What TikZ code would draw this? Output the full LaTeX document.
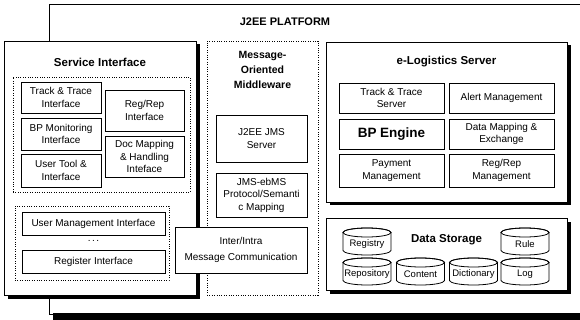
\documentclass[tikz,border=0pt]{standalone}
\usepackage{fontspec}
\setmainfont{Liberation Sans}
\usetikzlibrary{shadows,calc}
\tikzset{
  box/.style={draw, line width=0.8pt, fill=white, inner sep=0pt, align=center,
    font=\fontsize{10}{12.5}\selectfont},
  grp/.style={draw, line width=0.6pt, dash pattern=on 0.8pt off 1.6pt, inner sep=0pt},
  panel/.style={draw, line width=0.9pt, fill=white, inner sep=0pt,
    drop shadow={shadow xshift=3.5pt, shadow yshift=-3.5pt, fill=black, opacity=1}},
  ttl/.style={font=\fontsize{11.5}{14}\selectfont\bfseries, inner sep=0pt, align=center},
  cyltext/.style={inner sep=0pt, font=\fontsize{9.5}{12}\selectfont},
  cylline/.style={line width=0.8pt},
}
\newcommand{\dbcyl}[4]{%
  \draw[cylline, fill=white] ({#2-24},{#3-9}) -- ({#2-24},{#3+9})
     arc[start angle=180, end angle=360, x radius=24pt, y radius=4.5pt]
     -- ({#2+24},{#3-9})
     arc[start angle=0, end angle=180, x radius=24pt, y radius=4.5pt] -- cycle;
  \draw[cylline] (#2,{#3-9}) ellipse[x radius=24pt, y radius=4.5pt];
  \node[cyltext] (#1) at (#2,{#3+2.5}) {#4};
}
\begin{document}
\begin{tikzpicture}[x=1pt, y=-1pt]
\useasboundingbox (0,0) rectangle (580,320);
\fill[white] (0,0) rectangle (580,320);

% J2EE platform
\draw[line width=0.8pt] (580,4) -- (49,4) -- (49,314) -- (580,314);
\fill[black] (53,313) rectangle (580,320);
\node[ttl, font=\fontsize{11}{13}\selectfont\bfseries] (j2ee) at (285,22) {J2EE PLATFORM};

% Service Interface
\node[panel, minimum width=192pt, minimum height=254pt] (si) at (100,168) {};
\node[ttl] (sititle) at (100,62) {Service Interface};
\node[grp, minimum width=177pt, minimum height=115pt] (sigrp) at (101.5,134.5) {};
\node[box, minimum width=80pt, minimum height=31pt] (tti) at (61,97.5) {Track \& Trace\\Interface};
\node[box, minimum width=80pt, minimum height=32pt] (bpm) at (61,134) {BP Monitoring\\Interface};
\node[box, minimum width=80pt, minimum height=33pt] (uti) at (61,170.5) {User Tool \&\\Interface};
\node[box, minimum width=79pt, minimum height=41pt] (rri) at (144.5,110.5) {Reg/Rep\\Interface};
\node[box, minimum width=79pt, minimum height=41pt] (dmh) at (144.5,156.5) {Doc Mapping\\\& Handling\\Inteface};
\node[grp, minimum width=154pt, minimum height=74pt] (umgrp) at (92,243) {};
\node[box, minimum width=143pt, minimum height=23pt] (umi) at (93.5,223.5) {User Management Interface};
\node[inner sep=0pt, font=\fontsize{10}{12}\selectfont] (dots) at (93.5,241) {.\hspace{1.5pt}.\hspace{1.5pt}.};
\node[box, minimum width=143pt, minimum height=23pt] (regi) at (93.5,261.5) {Register Interface};

% Message-Oriented Middleware
\node[grp, fill=white, minimum width=111pt, minimum height=254pt] (mom) at (262.5,168) {};
\node[ttl, font=\fontsize{10.5}{15}\selectfont\bfseries] (momtitle) at (262.5,70) {Message-\\Oriented\\Middleware};
\node[box, minimum width=91pt, minimum height=47pt] (jms) at (261.5,138.5) {J2EE JMS\\Server};
\node[box, minimum width=91pt, minimum height=44pt] (ebms) at (261.5,195) {JMS-ebMS\\Protocol/Semanti\\c Mapping};

% e-Logistics Server
\node[panel, minimum width=241pt, minimum height=160pt] (els) at (446.5,122) {};
\node[ttl] (elstitle) at (446.5,62) {e-Logistics Server};
\node[box, minimum width=105pt, minimum height=30pt] (tts) at (391.5,98) {Track \& Trace\\Server};
\node[box, minimum width=105pt, minimum height=30pt] (alert) at (501.5,98) {Alert Management};
\node[box, minimum width=105pt, minimum height=30pt, font=\fontsize{13.5}{16}\selectfont\bfseries] (bpe) at (391.5,134) {BP Engine};
\node[box, minimum width=105pt, minimum height=30pt] (dme) at (501.5,134) {Data Mapping \&\\Exchange};
\node[box, minimum width=105pt, minimum height=33pt] (pay) at (391.5,170.5) {Payment\\Management};
\node[box, minimum width=105pt, minimum height=33pt] (rrm) at (501.5,170.5) {Reg/Rep\\Management};

% Data Storage
\node[panel, minimum width=241pt, minimum height=72pt] (ds) at (446.5,254) {};
\node[ttl] (dstitle) at (446.5,240) {Data Storage};
\dbcyl{registry}{367}{241.5}{Registry}
\dbcyl{rule}{525}{241.5}{Rule}
\dbcyl{repository}{367}{271.5}{Repository}
\dbcyl{content}{420.5}{271.5}{Content}
\dbcyl{dictionary}{473.5}{271.5}{Dictionary}
\dbcyl{log}{525}{271.5}{Log}

% Inter/Intra Message Communication (on top)
\node[box, minimum width=132pt, minimum height=46pt, font=\fontsize{10}{16}\selectfont] (imc) at (241,250) {Inter/Intra\\Message Communication};
\end{tikzpicture}
\end{document}
